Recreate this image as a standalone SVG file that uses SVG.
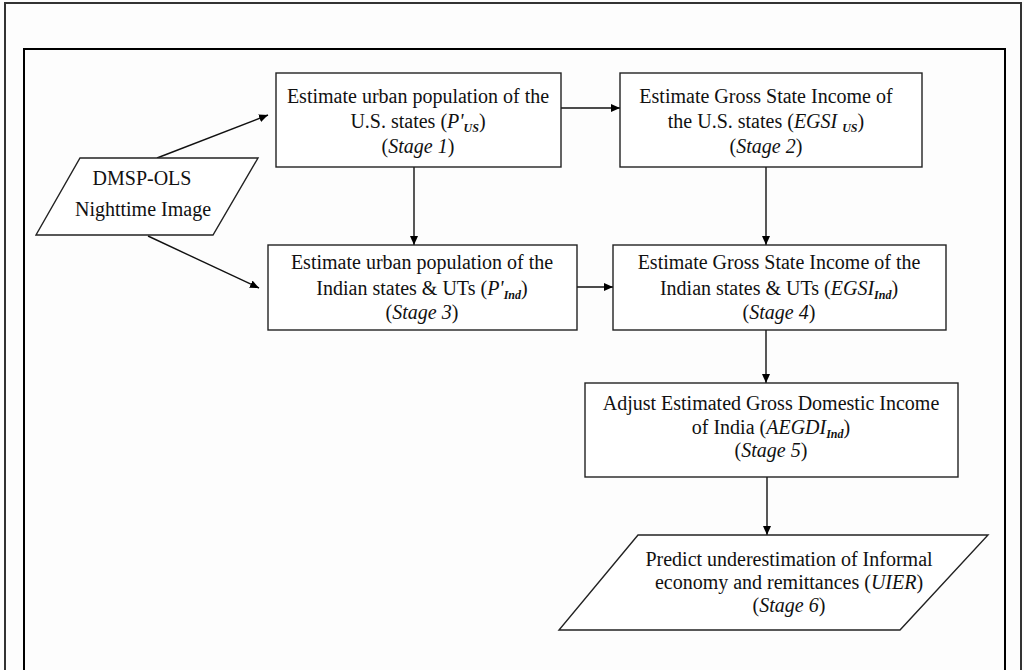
<svg xmlns="http://www.w3.org/2000/svg" width="1024" height="670" viewBox="0 0 1024 670">
  <defs>
    <marker id="arrow" markerUnits="userSpaceOnUse" markerWidth="10" markerHeight="8" refX="9" refY="4" orient="auto">
      <path d="M0,0 L9,4 L0,8 Z" fill="#000"/>
    </marker>
    <style>
      .frame-outer { fill: none; stroke: #333; stroke-width: 2; }
      .frame-inner { fill: none; stroke: #000; stroke-width: 2; }
      .box { fill: #fff; stroke: #222; stroke-width: 1.4; }
      .edge { fill: none; stroke: #111; stroke-width: 1.4; marker-end: url(#arrow); }
      text { font-family: "Liberation Serif", "Times New Roman", serif; font-size: 20px; fill: #111; text-anchor: middle; }
      .it { font-style: italic; }
      .sub { font-style: italic; font-weight: bold; font-size: 12px; }
    </style>
  </defs>

  <rect x="0" y="0" width="1024" height="670" fill="#fdfdfd"/>

  <!-- page frames (open at the bottom) -->
  <path class="frame-outer" d="M5,672 L5,3 L1021,3 L1021,672"/>
  <path class="frame-inner" d="M24,672 L24,49 L1005,49 L1005,672"/>

  <g id="connectors">
    <path class="edge" d="M157,158 L268,115"/>
    <path class="edge" d="M148,236 L259,288"/>
    <path class="edge" d="M561,108 L620,108"/>
    <path class="edge" d="M414,167 L414,245"/>
    <path class="edge" d="M766,167 L766,245"/>
    <path class="edge" d="M577,287 L613,287"/>
    <path class="edge" d="M766,330 L766,383"/>
    <path class="edge" d="M767,477 L767,535"/>
  </g>

  <g id="dmsp">
    <polygon class="box" points="80,158 258,158 213,235 36,235"/>
    <text x="142" y="185">DMSP-OLS</text>
    <text x="143" y="216">Nighttime Image</text>
  </g>

  <g id="stage1">
    <rect class="box" x="276" y="73" width="285" height="94"/>
    <text x="418" y="103">Estimate urban population of the</text>
    <text x="418" y="128">U.S. states (<tspan class="it">P'</tspan><tspan class="sub" dy="4">US</tspan><tspan dy="-4">)</tspan></text>
    <text x="418" y="153">(<tspan class="it">Stage 1</tspan>)</text>
  </g>

  <g id="stage2">
    <rect class="box" x="620" y="73" width="302" height="94"/>
    <text x="766" y="103">Estimate Gross State Income of</text>
    <text x="766" y="128">the U.S. states (<tspan class="it">EGSI </tspan><tspan class="sub" dy="4">US</tspan><tspan dy="-4">)</tspan></text>
    <text x="766" y="153">(<tspan class="it">Stage 2</tspan>)</text>
  </g>

  <g id="stage3">
    <rect class="box" x="268" y="245" width="309" height="85"/>
    <text x="422" y="269">Estimate urban population of the</text>
    <text x="422" y="295">Indian states &amp; UTs (<tspan class="it">P'</tspan><tspan class="sub" dy="4">Ind</tspan><tspan dy="-4">)</tspan></text>
    <text x="422" y="319">(<tspan class="it">Stage 3</tspan>)</text>
  </g>

  <g id="stage4">
    <rect class="box" x="613" y="245" width="333" height="85"/>
    <text x="779" y="269">Estimate Gross State Income of the</text>
    <text x="779" y="295">Indian states &amp; UTs (<tspan class="it">EGSI</tspan><tspan class="sub" dy="4">Ind</tspan><tspan dy="-4">)</tspan></text>
    <text x="779" y="319">(<tspan class="it">Stage 4</tspan>)</text>
  </g>

  <g id="stage5">
    <rect class="box" x="585" y="383" width="373" height="94"/>
    <text x="771" y="410">Adjust Estimated Gross Domestic Income</text>
    <text x="771" y="434">of India (<tspan class="it">AEGDI</tspan><tspan class="sub" dy="4">Ind</tspan><tspan dy="-4">)</tspan></text>
    <text x="771" y="457">(<tspan class="it">Stage 5</tspan>)</text>
  </g>

  <g id="stage6">
    <polygon class="box" points="638,535 988,535 900,630 559,630"/>
    <text x="789" y="566">Predict underestimation of Informal</text>
    <text x="789" y="589">economy and remittances (<tspan class="it">UIER</tspan>)</text>
    <text x="789" y="612">(<tspan class="it">Stage 6</tspan>)</text>
  </g>
</svg>
